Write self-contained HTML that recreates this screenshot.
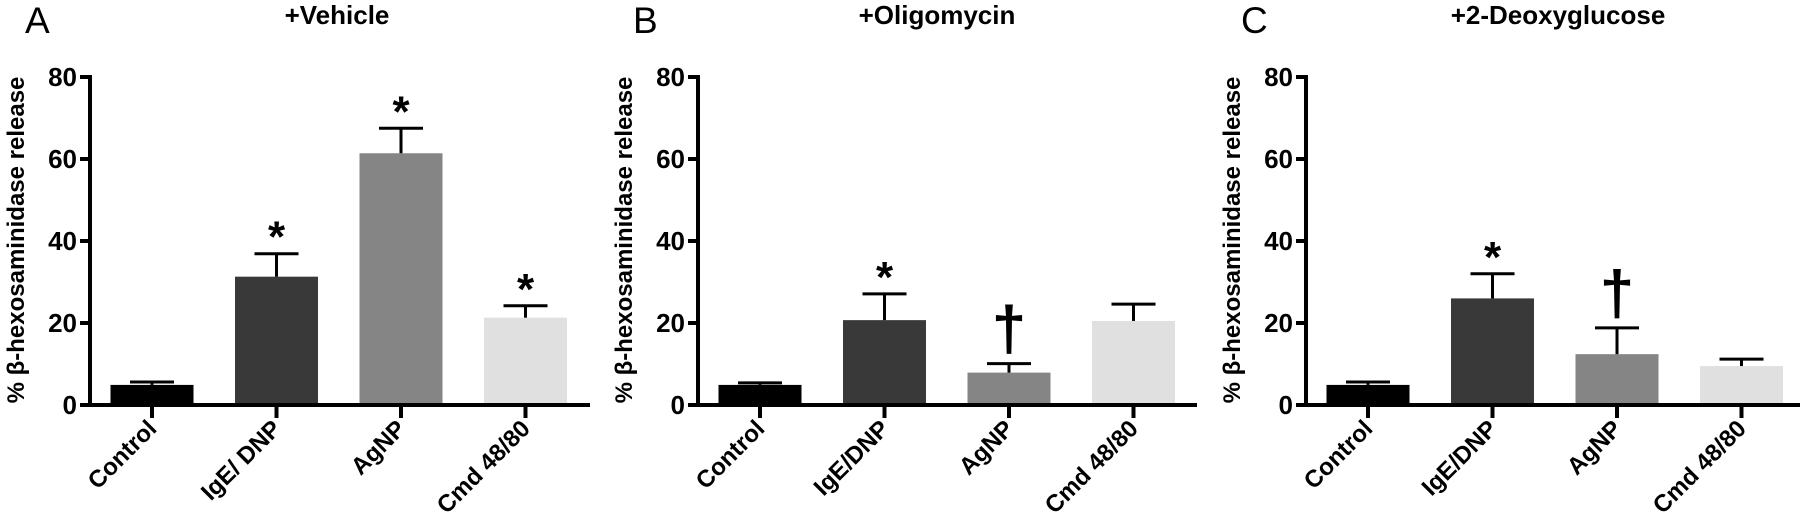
<!DOCTYPE html>
<html><head><meta charset="utf-8"><style>
html,body{margin:0;padding:0;background:#fff;width:1800px;height:519px;overflow:hidden}
svg text{font-family:"Liberation Sans",Arial,sans-serif}
</style></head><body>
<svg id="chart" width="1800" height="519" viewBox="0 0 1800 519"></svg>
<script>
const categoriesA = ["Control","IgE/ DNP","AgNP","Cmd 48/80"];
const categoriesBC = ["Control","IgE/DNP","AgNP","Cmd 48/80"];
const valuesA = [4.9, 31.3, 61.4, 21.3];
const errorsA = [5.6, 36.9, 67.5, 24.2];
const marksA = ["", "*", "*", "*"];
const valuesB = [4.9, 20.7, 7.9, 20.5];
const errorsB = [5.4, 27.1, 10.1, 24.6];
const marksB = ["", "*", "†", ""];
const valuesC = [4.9, 26.0, 12.4, 9.5];
const errorsC = [5.6, 32.0, 18.8, 11.2];
const marksC = ["", "*", "†", ""];
const yTicks = [0, 20, 40, 60, 80];
const titles = ["+Vehicle", "+Oligomycin", "+2-Deoxyglucose"];
const letters = ["A", "B", "C"];

const NS = "http://www.w3.org/2000/svg";
const svg = document.getElementById("chart");
const colors = ["#000000", "#393939", "#858585", "#e0e0e0"];
const Y0 = 405, YTOP = 77, YMAX = 80;
const yScale = v => Y0 - v / YMAX * (Y0 - YTOP);

function mk(tag, attrs, parent) {
  const e = document.createElementNS(NS, tag);
  for (const k in attrs) e.setAttribute(k, attrs[k]);
  (parent || svg).appendChild(e);
  return e;
}

const panels = [
  {ax: 90, end: 590, cats: categoriesA, vals: valuesA, errs: errorsA, marks: marksA, tx: 337},
  {ax: 698, end: 1197, cats: categoriesBC, vals: valuesB, errs: errorsB, marks: marksB, tx: 937},
  {ax: 1306, end: 1800, cats: categoriesBC, vals: valuesC, errs: errorsC, marks: marksC, tx: 1558}
];

panels.forEach((p, pi) => {
  const g = mk("g", {});
  
  
  const xc = i => p.ax + 62 + i * 124.5;

  const L = mk("text", {x: p.ax - 65, y: 33, "font-size": 37}, g);
  L.textContent = letters[pi];
  
  

  const T = mk("text", {x: p.tx, y: 24, "font-size": 26, "font-weight": "bold", "text-anchor": "middle"}, g);
  T.textContent = titles[pi];
  
  

  const YL = mk("text", {transform: `translate(${p.ax - 66},240) rotate(-90)`, "font-size": 24, "font-weight": "bold", "text-anchor": "middle"}, g);
  YL.textContent = "% β-hexosaminidase release";
  
  

  p.vals.forEach((v, i) => {
    const b = mk("rect", {x: xc(i) - 41.5, y: yScale(v), width: 83, height: Y0 - yScale(v), fill: colors[i]}, g);
    
    
    const ey = yScale(p.errs[i]);
    const e1 = mk("line", {x1: xc(i), x2: xc(i), y1: yScale(v), y2: ey, stroke: "#000", "stroke-width": 3}, g);
    
    
    const e2 = mk("line", {x1: xc(i) - 22, x2: xc(i) + 22, y1: ey, y2: ey, stroke: "#000", "stroke-width": 3}, g);
    
    
    if (p.marks[i] === "*") {
      const s = mk("text", {x: xc(i), y: ey - 2, "font-size": 44, "font-weight": "bold", "text-anchor": "middle"}, g);
      s.textContent = "*";
      
      
    } else if (p.marks[i] === "†") {
      const s = mk("text", {x: xc(i), y: ey - 14, "font-size": 62, "font-weight": "bold", "text-anchor": "middle"}, g);
      s.textContent = "†";
      
      
    }
    const t = mk("line", {x1: xc(i), x2: xc(i), y1: Y0, y2: 418, stroke: "#000", "stroke-width": 4}, g);
    
    
    const cl = mk("text", {transform: `translate(${xc(i) + 6},${430}) rotate(-45)`, "font-size": 24, "font-weight": "bold", "text-anchor": "end"}, g);
    cl.textContent = p.cats[i];
    
    
  });

  const ya = mk("line", {x1: p.ax, x2: p.ax, y1: YTOP - 2, y2: Y0 + 2, stroke: "#000", "stroke-width": 4}, g);
  
  
  const xa = mk("line", {x1: p.ax - 10, x2: p.end, y1: Y0, y2: Y0, stroke: "#000", "stroke-width": 4}, g);
  
  
  yTicks.forEach(v => {
    const tk = mk("line", {x1: p.ax - 10, x2: p.ax, y1: yScale(v), y2: yScale(v), stroke: "#000", "stroke-width": 4}, g);
    
    
    const tl = mk("text", {x: p.ax - 13, y: yScale(v) + 9, "font-size": 26, "font-weight": "bold", "text-anchor": "end"}, g);
    tl.textContent = v;
    
    
  });
});
</script>
</body></html>
